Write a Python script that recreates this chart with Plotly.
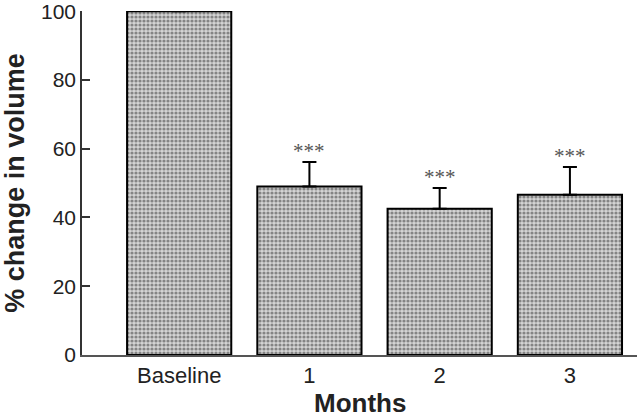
import plotly.graph_objects as go

categories = ["Baseline", "1", "2", "3"]
values = [100, 49, 42.5, 46.6]
err_up = [None, 7.1, 6.1, 8.1]
sig_labels = ["", "***", "***", "***"]
y_ticks = [0, 20, 40, 60, 80, 100]

fig = go.Figure()
fig.add_trace(go.Bar(
    x=categories, y=values, width=0.8,
    marker=dict(
        color="#b0b0b0",
        line=dict(color="black", width=2),
        pattern=dict(shape=".", fgcolor="#333333", bgcolor="#d4d4d4", size=4, solidity=0.5),
    ),
    error_y=dict(type="data", symmetric=False, array=err_up,
                 arrayminus=[0] * len(values), color="black", thickness=2, width=7),
    showlegend=False,
))

for c, v, e, s in zip(categories, values, err_up, sig_labels):
    if s:
        fig.add_annotation(x=c, y=v + e, text=s, showarrow=False, yanchor="middle",
                           yshift=11, font=dict(family="Liberation Serif", size=21, color="#555555"))

fig.add_annotation(x=0.5, xref="paper", y=0, yref="paper", yanchor="middle", yshift=-48,
                   text="<b>Months</b>", showarrow=False,
                   font=dict(family="Liberation Sans, Arial", size=26, color="#222222"))

fig.update_layout(
    width=637, height=418,
    margin=dict(l=82, r=0, t=11, b=63),
    plot_bgcolor="white", paper_bgcolor="white",
    font=dict(family="Liberation Sans, Arial", size=21, color="#222222"),
    bargap=0.2,
)
fig.update_xaxes(
    type="category", range=[-0.746, 3.515], automargin=False,
    showline=True, linecolor="#555555", linewidth=1.5,
    ticks="", showgrid=False,
    tickfont=dict(size=22),
)
fig.update_yaxes(
    range=[0, 100.05], tickvals=y_ticks, automargin=False, ticklabeloverflow="allow",
    showline=True, linecolor="#333333", linewidth=1.5,
    ticks="inside", ticklen=8, tickcolor="#333333", tickwidth=1.5,
    showgrid=False, zeroline=False,
    tickfont=dict(size=21),
    title=dict(text="<b>% change in volume</b>", font=dict(size=27, color="#222222"), standoff=22),
)

fig.write_html("out.html", config={"displayModeBar": False},
               post_script="document.body.style.margin='0';")
